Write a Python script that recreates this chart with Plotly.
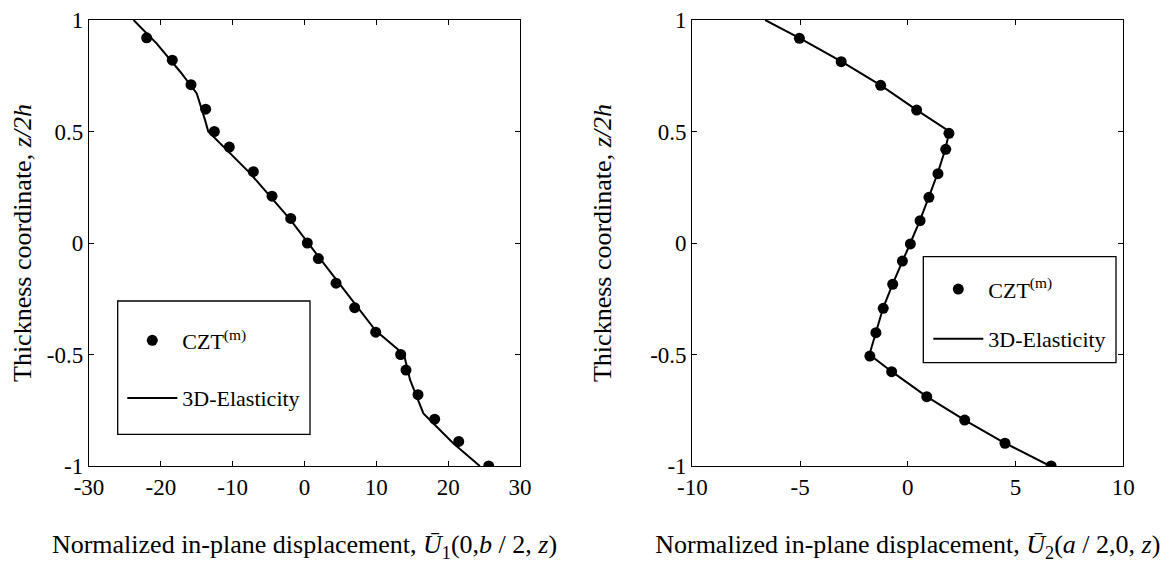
import plotly.graph_objects as go

# ---------------- Data ----------------
# Left panel: U1(0, b/2, z)
z_czt_left = [0.92, 0.82, 0.71, 0.60, 0.50, 0.43, 0.32, 0.21, 0.11, 0.00,
              -0.07, -0.18, -0.29, -0.40, -0.50, -0.57, -0.68, -0.79, -0.89, -1.00]
u1_czt = [-21.97, -18.4, -15.8, -13.76, -12.55, -10.47, -7.12, -4.52, -1.92, 0.39,
          1.93, 4.39, 6.98, 9.91, 13.39, 14.13, 15.8, 18.12, 21.47, 25.64]
z_elast_left = [1.0, 0.895, 0.768, 0.671, 0.552, 0.5, 0.317, 0.106, -0.076,
                -0.286, -0.393, -0.5, -0.614, -0.764, -0.898, -1.0]
u1_elast = [-23.8, -20.6, -17.3, -15.0, -13.85, -13.4, -7.7, -2.0, 2.3,
            7.3, 9.9, 13.85, 14.7, 16.55, 20.7, 24.4]

# Right panel: U2(a/2, 0, z)
z_czt_right = [0.918, 0.813, 0.707, 0.596, 0.492, 0.42, 0.311, 0.205, 0.10, -0.004,
               -0.081, -0.185, -0.293, -0.402, -0.507, -0.577, -0.689, -0.794, -0.898, -1.0]
u2_czt = [-5.03, -3.09, -1.26, 0.41, 1.91, 1.76, 1.40, 0.98, 0.57, 0.12,
          -0.25, -0.70, -1.14, -1.48, -1.76, -0.75, 0.88, 2.64, 4.51, 6.65]
z_elast_right = [1.0, 0.918, 0.813, 0.707, 0.596, 0.5, 0.42, 0.311, 0.205, 0.10, 0.0,
                 -0.081, -0.185, -0.293, -0.402, -0.5, -0.577, -0.689, -0.794, -0.898, -1.0]
u2_elast = [-6.62, -5.0, -3.07, -1.25, 0.42, 1.93, 1.74, 1.38, 0.97, 0.56, 0.12,
            -0.26, -0.71, -1.15, -1.50, -1.78, -0.74, 0.88, 2.64, 4.52, 6.60]

# Ticks
y_tickvals = [-1, -0.5, 0, 0.5, 1]
y_ticktext = ["-1", "-0.5", "0", "0.5", "1"]
x1_tickvals = [-30, -20, -10, 0, 10, 20, 30]
x1_ticktext = ["-30", "-20", "-10", "0", "10", "20", "30"]
x2_tickvals = [-10, -5, 0, 5, 10]
x2_ticktext = ["-10", "-5", "0", "5", "10"]

label_czt = "CZT<sup>(m)</sup>"
label_elast = "3D-Elasticity"
y_title = "Thickness coordinate, <i>z/2h</i>"
x1_title = "Normalized in-plane displacement, <i>Ū</i><sub>1</sub>(0,<i>b</i> / 2, <i>z</i>)"
x2_title = "Normalized in-plane displacement, <i>Ū</i><sub>2</sub>(<i>a</i> / 2,0, <i>z</i>)"

# ---------------- Figure ----------------
W, H = 1172, 563
FONT = "Liberation Serif"
FS_TICK = 23
FS_LEG = 22
FS_TITLE = 26

fig = go.Figure()

fig.add_trace(go.Scatter(x=u1_elast, y=z_elast_left, mode="lines", name=label_elast,
                         line=dict(color="black", width=2), xaxis="x", yaxis="y",
                         legend="legend", legendgroup="e1", legendrank=2))
fig.add_trace(go.Scatter(x=u1_czt, y=z_czt_left, mode="markers", name=label_czt,
                         marker=dict(color="black", size=11), xaxis="x", yaxis="y",
                         legend="legend", legendgroup="c1", legendrank=1))
fig.add_trace(go.Scatter(x=u2_elast, y=z_elast_right, mode="lines", name=label_elast,
                         line=dict(color="black", width=2), xaxis="x2", yaxis="y2",
                         legend="legend2", legendgroup="e2", legendrank=2))
fig.add_trace(go.Scatter(x=u2_czt, y=z_czt_right, mode="markers", name=label_czt,
                         marker=dict(color="black", size=11), xaxis="x2", yaxis="y2",
                         legend="legend2", legendgroup="c2", legendrank=1))

left_dom = [89 / W, 520 / W]
right_dom = [692.3 / W, 1123.3 / W]
y_dom = [1 - 466 / H, 1 - 20 / H]

axis_common = dict(showline=True, linecolor="black", linewidth=1.3, mirror="ticks",
                   ticks="inside", ticklen=5, tickcolor="black", tickwidth=1,
                   showgrid=False, zeroline=False, automargin=False,
                   tickfont=dict(family=FONT, size=FS_TICK, color="black"))
title_font = dict(family=FONT, size=FS_TITLE, color="black")

fig.update_layout(
    width=W, height=H,
    margin=dict(l=0, r=0, t=0, b=0, autoexpand=False),
    paper_bgcolor="white", plot_bgcolor="white",
    font=dict(family=FONT, size=FS_LEG, color="black"),
    xaxis=dict(domain=left_dom, range=[-30, 30], tickvals=x1_tickvals, ticktext=x1_ticktext,
               anchor="y", title=dict(text=x1_title, standoff=36, font=title_font),
               **axis_common),
    yaxis=dict(domain=y_dom, range=[-1, 1], tickvals=y_tickvals, ticktext=y_ticktext,
               anchor="x", title=dict(text=y_title, standoff=7, font=title_font),
               **axis_common),
    xaxis2=dict(domain=right_dom, range=[-10, 10], tickvals=x2_tickvals, ticktext=x2_ticktext,
                anchor="y2", title=dict(text=x2_title, standoff=36, font=title_font),
                **axis_common),
    yaxis2=dict(domain=y_dom, range=[-1, 1], tickvals=y_tickvals, ticktext=y_ticktext,
                anchor="x2", title=dict(text=y_title, standoff=31, font=title_font),
                **axis_common),
    legend=dict(x=122.3 / W, y=1 - 319.5 / H, xanchor="left", yanchor="top",
                bgcolor="rgba(0,0,0,0)", borderwidth=0, tracegroupgap=26,
                itemwidth=50, font=dict(family=FONT, size=FS_LEG)),
    legend2=dict(x=928.3 / W, y=1 - 268.3 / H, xanchor="left", yanchor="top",
                 bgcolor="rgba(0,0,0,0)", borderwidth=0, tracegroupgap=18,
                 itemwidth=50, font=dict(family=FONT, size=FS_LEG)),
    shapes=[
        dict(type="rect", xref="paper", yref="paper",
             x0=117.7 / W, x1=310 / W, y0=1 - 434.3 / H, y1=1 - 301 / H,
             line=dict(color="black", width=1.3), fillcolor="white", layer="below"),
        dict(type="rect", xref="paper", yref="paper",
             x0=923.3 / W, x1=1116 / W, y0=1 - 362.7 / H, y1=1 - 256.7 / H,
             line=dict(color="black", width=1.3), fillcolor="white", layer="below"),
    ],
)

fig.write_html("out.html", config={"displayModeBar": False},
               post_script="document.body.style.margin='0';document.body.style.overflow='hidden';")
